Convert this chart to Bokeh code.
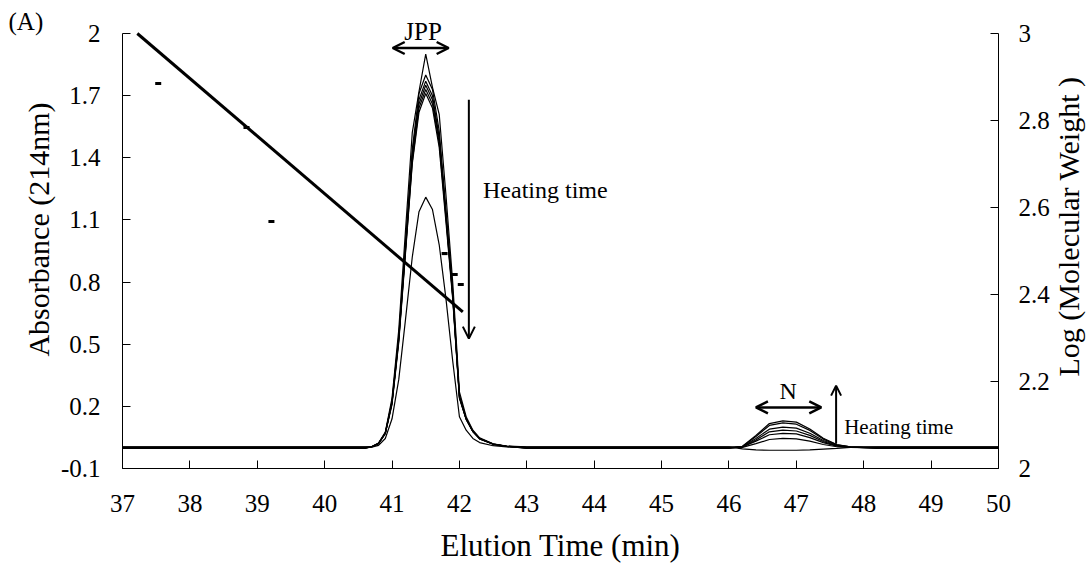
import math
from bokeh.plotting import figure
from bokeh.models import Range1d, LinearAxis, FixedTicker, Label, Arrow, OpenHead
from bokeh.embed import file_html
from bokeh.resources import INLINE

# ---------------- data ----------------
elution_time = [37.0, 40.6, 40.7, 40.8, 40.9, 41.0, 41.1, 41.2, 41.3, 41.4, 41.5, 41.6,
                41.7, 41.8, 41.9, 42.0, 42.1, 42.2, 42.3, 42.5, 42.7, 43.0,
                46.0, 46.2, 46.4, 46.6, 46.8, 47.0, 47.2, 47.4, 47.6, 47.8, 48.2, 50.0]

trace_1 = [0.004, 0.004, 0.006, 0.023, 0.076, 0.24, 0.57, 1.05, 1.52, 1.72, 1.90, 1.74,
           1.61, 1.22, 0.80, 0.27, 0.15, 0.085, 0.048, 0.019, 0.008, 0.004,
           0.004, -0.005, -0.01, -0.012, -0.012, -0.012, -0.01, -0.006, -0.003, 0.002, 0.004, 0.004]
trace_2 = [0.002, 0.002, 0.005, 0.022, 0.072, 0.225, 0.54, 0.99, 1.44, 1.71, 1.80, 1.73,
           1.53, 1.15, 0.76, 0.25, 0.14, 0.08, 0.045, 0.018, 0.007, 0.002,
           0.002, 0.002, 0.02, 0.04, 0.045, 0.043, 0.032, 0.016, 0.005, 0.002, 0.002, 0.002]
trace_3 = [0, 0, 0.005, 0.021, 0.07, 0.22, 0.53, 0.97, 1.42, 1.68, 1.77, 1.70,
           1.50, 1.13, 0.74, 0.25, 0.14, 0.08, 0.044, 0.018, 0.007, 0,
           0, 0.004, 0.032, 0.063, 0.07, 0.067, 0.049, 0.025, 0.008, 0.002, 0, 0]
trace_4 = [-0.002, -0.002, 0.005, 0.021, 0.07, 0.22, 0.525, 0.96, 1.40, 1.66, 1.75, 1.68,
           1.49, 1.12, 0.735, 0.245, 0.14, 0.079, 0.044, 0.018, 0.007, -0.002,
           -0.002, 0.004, 0.038, 0.077, 0.085, 0.081, 0.06, 0.03, 0.01, 0.003, -0.002, -0.002]
trace_5 = [0.003, 0.003, 0.005, 0.02, 0.069, 0.215, 0.52, 0.95, 1.38, 1.64, 1.73, 1.66,
           1.47, 1.11, 0.73, 0.24, 0.138, 0.078, 0.043, 0.017, 0.007, 0.003,
           0.003, 0.005, 0.045, 0.09, 0.10, 0.095, 0.07, 0.035, 0.012, 0.004, 0.003, 0.003]
trace_6 = [-0.003, -0.003, 0.005, 0.02, 0.068, 0.21, 0.51, 0.94, 1.37, 1.62, 1.71, 1.64,
           1.45, 1.09, 0.72, 0.24, 0.137, 0.077, 0.043, 0.017, 0.007, -0.003,
           -0.003, 0.006, 0.054, 0.108, 0.12, 0.114, 0.084, 0.042, 0.014, 0.004, -0.003, -0.003]
trace_7 = [0.001, 0.001, 0.003, 0.012, 0.045, 0.14, 0.33, 0.62, 0.92, 1.14, 1.21, 1.15,
           0.98, 0.72, 0.42, 0.15, 0.085, 0.045, 0.025, 0.01, 0.004, 0.001,
           0.001, 0.007, 0.059, 0.117, 0.13, 0.124, 0.091, 0.046, 0.016, 0.004, 0.001, 0.001]
traces = [trace_1, trace_2, trace_3, trace_4, trace_5, trace_6, trace_7]

# calibration (log MW vs elution time)
calib_time = [37.22, 42.05]
calib_logmw = [3.0, 2.36]
standard_time = [37.53, 38.84, 39.21, 41.78, 41.93, 42.02]
standard_logmw = [2.885, 2.784, 2.568, 2.494, 2.446, 2.423]

x_ticks = [37, 38, 39, 40, 41, 42, 43, 44, 45, 46, 47, 48, 49, 50]
x_tick_labels = ["37", "38", "39", "40", "41", "42", "43", "44", "45", "46", "47", "48", "49", "50"]
y_ticks = [-0.1, 0.2, 0.5, 0.8, 1.1, 1.4, 1.7, 2.0]
y_tick_labels = ["-0.1", "0.2", "0.5", "0.8", "1.1", "1.4", "1.7", "2"]
y2_ticks = [2.0, 2.2, 2.4, 2.6, 2.8, 3.0]
y2_tick_labels = ["2", "2.2", "2.4", "2.6", "2.8", "3"]

FONT = "Liberation Serif"
W, H = 1087, 563
# axes box in pixels: left 122, right 998, top 33, bottom 468
KX = 876 / 13.0      # px per minute
KY = 435 / 2.1       # px per absorbance unit
KY2 = 435 / 1.0      # px per log unit

def px_x(px):
    return 37 + (px - 122) / KX

def px_y(py):
    return -0.1 + (468 - py) / KY

p = figure(width=W, height=H, output_backend="svg", toolbar_location=None,
           x_range=Range1d(px_x(0), px_x(W)), y_range=Range1d(px_y(H), px_y(0)),
           min_border_left=0, min_border_right=0, min_border_top=0, min_border_bottom=0)
p.extra_y_ranges = {"mw": Range1d(2.0 - (H - 468) / KY2, 3.0 + 33 / KY2)}
p.outline_line_color = None
p.xgrid.grid_line_color = None
p.ygrid.grid_line_color = None
p.background_fill_color = "white"
p.border_fill_color = "white"

for tr in traces:
    p.line(elution_time, tr, line_color="black", line_width=1.2)

p.line(calib_time, calib_logmw, y_range_name="mw", line_color="black", line_width=3)
p.scatter(standard_time, standard_logmw, y_range_name="mw", marker="dash", size=6,
          line_color="black", line_width=3)

right_axis = LinearAxis(y_range_name="mw", fixed_location=50)
p.add_layout(right_axis, "right")

xax = p.xaxis[0]
yax = p.yaxis[0]
xax.fixed_location = -0.1
yax.fixed_location = 37
xax.bounds = (37, 50)
yax.bounds = (-0.1, 2.0)
right_axis.bounds = (2.0, 3.0)

xax.ticker = FixedTicker(ticks=x_ticks)
xax.major_label_overrides = dict(zip(x_ticks, x_tick_labels))
yax.ticker = FixedTicker(ticks=y_ticks)
yax.major_label_overrides = dict(zip(y_ticks, y_tick_labels))
right_axis.ticker = FixedTicker(ticks=y2_ticks)
right_axis.major_label_overrides = dict(zip(y2_ticks, y2_tick_labels))

for ax in [xax, yax, right_axis]:
    ax.axis_line_color = "black"
    ax.axis_line_width = 1
    ax.major_tick_line_color = "black"
    ax.major_tick_in = 8
    ax.major_tick_out = 0
    ax.minor_tick_line_color = None
    ax.major_label_text_font = FONT
    ax.major_label_text_font_size = "25px"
    ax.major_label_text_color = "black"

yax.major_label_standoff = 22
right_axis.major_label_standoff = 20
xax.major_label_standoff = 26

# ---------------- texts & annotations ----------------
def lab(x, y, t, size, align="left", angle=0):
    p.add_layout(Label(x=x, y=y, text=t, text_font=FONT, text_font_size=size, angle=angle,
                       text_align=align, text_baseline="middle", text_color="black"))

lab(px_x(8), px_y(21), "(A)", "25px")
lab(px_x(38), px_y(229), "Absorbance (214nm)", "30px", "center", math.pi / 2)
lab(px_x(1068), px_y(226), "Log (Molecular Weight )", "30px", "center", math.pi / 2)
lab(px_x(560), px_y(545), "Elution Time (min)", "31px", "center")
lab(41.46, px_y(31), "JPP", "25px", "center")
lab(42.35, px_y(189), "Heating time", "24px")
lab(46.88, px_y(390), "N", "24px", "center")
lab(47.71, px_y(426), "Heating time", "21px")

p.add_layout(Arrow(x_start=41.01, y_start=1.93, x_end=41.84, y_end=1.93,
                   start=OpenHead(size=12, line_width=2.5), end=OpenHead(size=12, line_width=2.5),
                   line_width=2.5))
p.add_layout(Arrow(x_start=42.14, y_start=1.68, x_end=42.14, y_end=0.527,
                   end=OpenHead(size=12, line_width=2), line_width=2))
p.add_layout(Arrow(x_start=46.4, y_start=0.195, x_end=47.37, y_end=0.195,
                   start=OpenHead(size=12, line_width=2.5), end=OpenHead(size=12, line_width=2.5),
                   line_width=2.5))
p.add_layout(Arrow(x_start=47.59, y_start=0.02, x_end=47.59, y_end=0.30,
                   end=OpenHead(size=10, line_width=2), line_width=2))

open("out.html", "w").write(file_html(p, INLINE))
